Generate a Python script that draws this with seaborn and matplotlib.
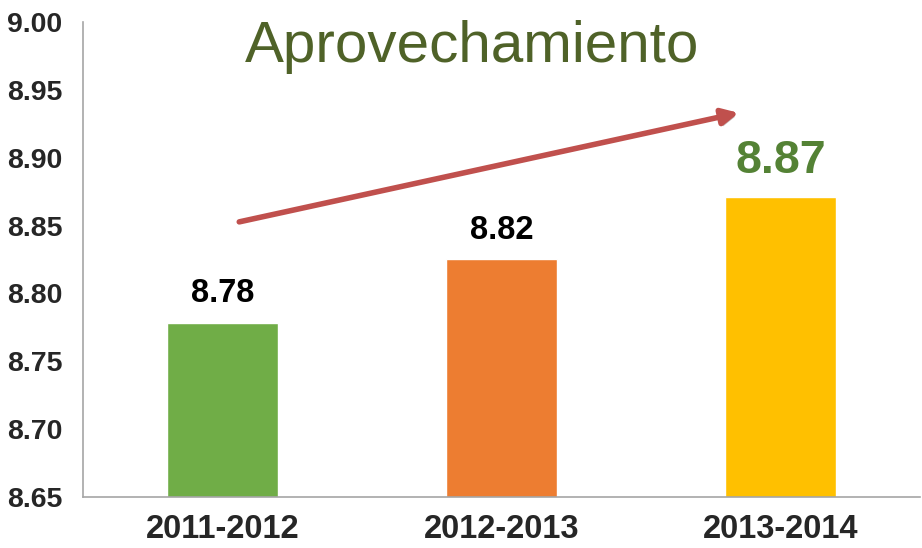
import matplotlib
matplotlib.use('Agg')
import matplotlib.pyplot as plt
import matplotlib.patheffects as pe
import seaborn as sns
import numpy as np
import pandas as pd

# data
periods = ["2011-2012", "2012-2013", "2013-2014"]
values = [8.778, 8.825, 8.871]
value_labels = ["8.78", "8.82", "8.87"]
bar_colors = ["#70AD47", "#ED7D31", "#FFC000"]
y_ticks = [8.65, 8.70, 8.75, 8.80, 8.85, 8.90, 8.95, 9.00]

sns.set_style("white")
plt.rcParams['font.family'] = ['Liberation Sans', 'DejaVu Sans']

df = pd.DataFrame({"periodo": periods, "valor": values})

fig = plt.figure(figsize=(9.22, 5.48), dpi=100)
ax = fig.add_axes([0.090, 0.093, 0.908, 0.867])

sns.barplot(data=df, x="periodo", y="valor", hue="periodo", palette=bar_colors,
            width=0.4, saturation=1, legend=False, ax=ax)

ax.set_ylim(8.65, 9.00)
ax.set_xlim(-0.5, 2.5)
ax.set_yticks(y_ticks)
ax.set_yticklabels([f"{t:.2f}" for t in y_ticks])
ax.set_xlabel("")
ax.set_ylabel("")

for side in ["top", "right"]:
    ax.spines[side].set_visible(False)
for side in ["left", "bottom"]:
    ax.spines[side].set_color("#A6A6A6")
    ax.spines[side].set_linewidth(1.2)

ax.tick_params(axis='y', direction='out', length=4, width=1.2, color="#A6A6A6",
               pad=11, labelsize=20.5)
ax.tick_params(axis='x', which='major', length=0, pad=12, labelsize=23.5)
ax.set_xticks([-0.5, 0.5, 1.5, 2.5], minor=True)
ax.tick_params(axis='x', which='minor', direction='out', length=6, width=1.2,
               color="#A6A6A6")
for lbl in ax.get_yticklabels() + ax.get_xticklabels():
    lbl.set_fontweight('bold')

# value labels
for i, (v, txt) in enumerate(zip(values, value_labels)):
    big = i == len(values) - 1
    ax.annotate(txt, xy=(i, v), xytext=(0, 10), textcoords="offset points",
                ha="center", va="bottom", fontweight="bold",
                fontsize=33.5 if big else 23.5,
                color="#548235" if big else "black")

# trend arrow with soft shadow
start, end = (0.06, 8.8527), (1.85, 8.933)
ax.annotate("", xy=end, xytext=start,
            arrowprops=dict(arrowstyle="-|>", color="#C0504D", lw=4,
                            mutation_scale=24, shrinkA=0, shrinkB=0,
                            path_effects=[pe.SimplePatchShadow(offset=(1.5, -2), alpha=0.3),
                                          pe.Normal()]))

fig.text(0.512, 0.887, "Aprovechamiento", ha="center", va="baseline",
         fontsize=42, color="#4F6228")

plt.savefig("out.png", dpi=100)
plt.close()
